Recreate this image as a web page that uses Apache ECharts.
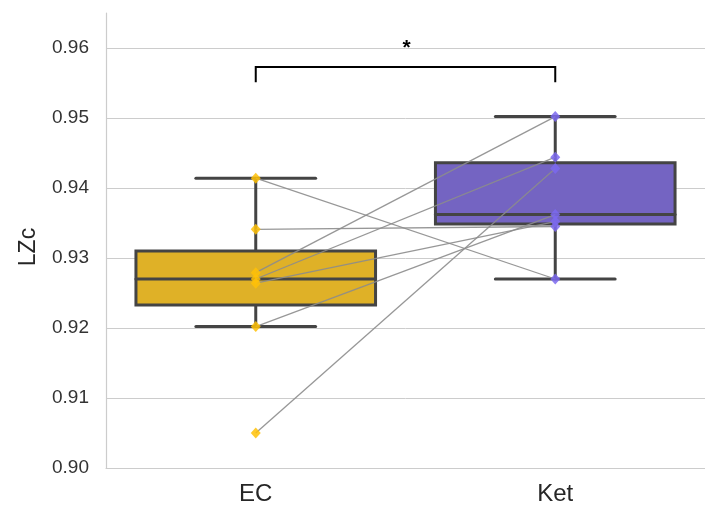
<!DOCTYPE html>
<html>
<head>
<meta charset="utf-8">
<script src="https://cdn.jsdelivr.net/npm/echarts@6/dist/echarts.min.js"></script>
<style>
  html, body { margin: 0; padding: 0; background: #fff; }
  #chart { width: 705px; height: 508px; }
</style>
</head>
<body>
<div id="chart"></div>
<script>
// Groups and per-subject LZc values (paired: index i is the same subject)
const categories = ['EC', 'Ket'];
const ecValues  = [0.9414, 0.9341, 0.9050, 0.9202, 0.9279, 0.9270, 0.9264];
const ketValues = [0.9270, 0.9345, 0.9428, 0.9362, 0.9502, 0.9444, 0.9352];
const yTicks = [0.90, 0.91, 0.92, 0.93, 0.94, 0.95, 0.96];
const yName = 'LZc';
const bracketLevels = [0.9551, 0.9573]; // significance bracket foot / top
const sigText = '*';

const boxFill = ['#DFB127', '#7464C2'];
const pointColor = ['#FFC107', '#7B68EE'];
const edge = '#444444';
const FONT = '"Liberation Sans", Arial, sans-serif';

// linear-interpolated percentile
function pct(sorted, p) {
  const pos = (sorted.length - 1) * p;
  const lo = Math.floor(pos), hi = Math.ceil(pos);
  return sorted[lo] + (sorted[hi] - sorted[lo]) * (pos - lo);
}
function boxStats(vals) {
  const s = vals.slice().sort((a, b) => a - b);
  const q1 = pct(s, 0.25), med = pct(s, 0.5), q3 = pct(s, 0.75);
  const iqr = q3 - q1;
  const lo = s.filter(v => v >= q1 - 1.5 * iqr)[0];
  const hiArr = s.filter(v => v <= q3 + 1.5 * iqr);
  const hi = hiArr[hiArr.length - 1];
  return [lo, q1, med, q3, hi];
}
const stats = [boxStats(ecValues), boxStats(ketValues)];

const boxSeries = {
  type: 'custom',
  z: 2,
  data: stats.map((s, i) => [i].concat(s)),
  renderItem: function (params, api) {
    const i = api.value(0);
    const band = api.size([1, 0])[0];
    const half = band * 0.4;
    const capHalf = half / 2;
    const cx = api.coord([i, 0])[0];
    const y = k => api.coord([i, api.value(k)])[1];
    const yLo = y(1), yQ1 = y(2), yMed = y(3), yQ3 = y(4), yHi = y(5);
    const ls = { stroke: edge, lineWidth: 3, lineCap: 'round' };
    return {
      type: 'group',
      children: [
        { type: 'line', shape: { x1: cx, y1: yHi, x2: cx, y2: yQ3 }, style: ls },
        { type: 'line', shape: { x1: cx, y1: yQ1, x2: cx, y2: yLo }, style: ls },
        { type: 'line', shape: { x1: cx - capHalf, y1: yHi, x2: cx + capHalf, y2: yHi }, style: ls },
        { type: 'line', shape: { x1: cx - capHalf, y1: yLo, x2: cx + capHalf, y2: yLo }, style: ls },
        { type: 'rect', shape: { x: cx - half, y: yQ3, width: half * 2, height: yQ1 - yQ3 },
          style: { fill: boxFill[i], stroke: edge, lineWidth: 3 } },
        { type: 'line', shape: { x1: cx - half, y1: yMed, x2: cx + half, y2: yMed }, style: ls }
      ]
    };
  }
};

const pairSeries = ecValues.map((v, k) => ({
  type: 'line',
  z: 3,
  silent: true,
  symbol: 'none',
  data: [[0, v], [1, ketValues[k]]],
  lineStyle: { color: '#8c8c8c', width: 1.3, opacity: 0.9 }
}));

const pointSeries = [ecValues, ketValues].map((vals, i) => ({
  type: 'scatter',
  z: 4,
  symbol: 'diamond',
  symbolSize: [10, 11],
  data: vals.map(v => [i, v]),
  itemStyle: { color: pointColor[i], opacity: 0.85 }
}));

const bracketSeries = {
  type: 'custom',
  z: 5,
  data: [[0, 1, bracketLevels[0], bracketLevels[1]]],
  renderItem: function (params, api) {
    const a = api.coord([api.value(0), api.value(2)]);
    const b = api.coord([api.value(1), api.value(2)]);
    const top = api.coord([api.value(0), api.value(3)])[1];
    return {
      type: 'group',
      children: [
        { type: 'polyline',
          shape: { points: [[a[0], a[1]], [a[0], top], [b[0], top], [b[0], b[1]]] },
          style: { stroke: '#000', lineWidth: 2, fill: null } },
        { type: 'text',
          style: { x: (a[0] + b[0]) / 2 + 1, y: top - 8, text: sigText, fill: '#000',
                   font: 'bold 21px ' + FONT,
                   align: 'center', verticalAlign: 'bottom' } }
      ]
    };
  }
};

const chart = echarts.init(document.getElementById('chart'), null, { renderer: 'canvas' });
chart.setOption({
  animation: false,
  backgroundColor: '#ffffff',
  grid: { left: 106, top: 13, width: 604, height: 455, containLabel: false },
  graphic: [{
    type: 'text',
    x: 29, y: 247,
    rotation: Math.PI / 2,
    style: { text: yName, fill: '#262626', font: '23px ' + FONT,
             align: 'center', verticalAlign: 'middle' }
  }],
  xAxis: {
    type: 'category',
    data: categories,
    boundaryGap: true,
    axisLine: { show: true, lineStyle: { color: '#cccccc', width: 1.2 } },
    axisTick: { show: false },
    axisLabel: { color: '#262626', fontSize: 24, margin: 14, fontFamily: FONT },
    splitLine: { show: false }
  },
  yAxis: {
    type: 'value',
    min: yTicks[0],
    max: 0.965,
    interval: 0.01,
    axisLine: { show: true, lineStyle: { color: '#cccccc', width: 1.2 } },
    axisTick: { show: false },
    axisLabel: {
      color: '#333333', fontSize: 19, margin: 17, fontFamily: FONT,
      showMaxLabel: false,
      formatter: v => v.toFixed(2)
    },
    splitLine: { show: true, showMaxLine: false, lineStyle: { color: '#cccccc', width: 1 } }
  },
  series: [boxSeries].concat(pairSeries, pointSeries, [bracketSeries])
});
</script>
</body>
</html>
